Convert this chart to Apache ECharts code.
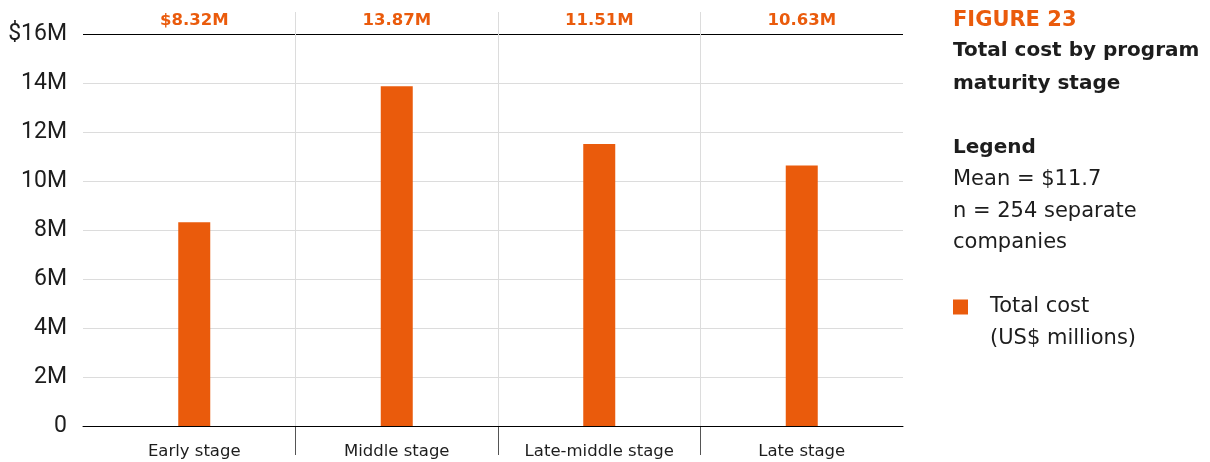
<!DOCTYPE html>
<html>
<head>
<meta charset="utf-8">
<script src="https://cdn.jsdelivr.net/npm/echarts@6/dist/echarts.min.js"></script>
<style>
  html, body { margin: 0; padding: 0; background: #fff; }
  #chart { width: 1210px; height: 462px; }
</style>
</head>
<body>
<div id="chart"></div>
<script>
// Program maturity stages and the average total cost for each (US$ millions)
const stages = ['Early stage', 'Middle stage', 'Late-middle stage', 'Late stage'];
const totalCost = [8.32, 13.87, 11.51, 10.63];
const yTickLabels = ['0', '2M', '4M', '6M', '8M', '10M', '12M', '14M', '$16M'];

const ORANGE = '#EA5B0C';
const INK = '#1d1d1d';
const BODY = '"DejaVu Sans", sans-serif';
const HEAVY = '"DejaVu Sans", sans-serif';
const AXIS = 'Roboto, sans-serif';

const chart = echarts.init(document.getElementById('chart'), null, { renderer: 'canvas' });

const costLabel = (i) => (i === 0 ? '$' : '') + totalCost[i].toFixed(2) + 'M';
const seriesName = 'Total cost';

chart.setOption({
  animation: false,
  backgroundColor: '#fff',
  textStyle: { fontFamily: BODY },
  title: [
    {
      text: 'FIGURE 23', left: 953, top: 5, padding: 0,
      textStyle: { color: ORANGE, fontSize: 21, fontWeight: 'bold', fontFamily: HEAVY, lineHeight: 32 }
    },
    {
      text: 'Total cost by program\nmaturity stage', left: 953, top: 34, padding: 0,
      textStyle: { color: INK, fontSize: 20, fontWeight: 'bold', fontFamily: HEAVY, lineHeight: 33 }
    },
    {
      text: 'Legend', left: 953, top: 132, padding: 0,
      textStyle: { color: INK, fontSize: 20, fontWeight: 'bold', fontFamily: HEAVY, lineHeight: 32 }
    },
    {
      text: 'Mean = $11.7\nn = 254 separate\ncompanies', left: 953, top: 164, padding: 0,
      textStyle: { color: INK, fontSize: 21, fontWeight: 'normal', fontFamily: BODY, lineHeight: 31.5 }
    },
    {
      text: '(US$ millions)', left: 990, top: 323, padding: 0,
      textStyle: { color: INK, fontSize: 21, fontWeight: 'normal', fontFamily: BODY, lineHeight: 32 }
    }
  ],
  legend: {
    left: 953, top: 291, orient: 'vertical', padding: 0,
    icon: 'rect', itemWidth: 15, itemHeight: 15,
    selectedMode: false,
    textStyle: {
      color: INK, fontSize: 21, fontFamily: BODY, lineHeight: 32,
      padding: [0, 0, 0, 17]
    },
    data: [seriesName]
  },
  grid: [
    // value scale, horizontal gridlines, baseline
    { left: 83, right: 307, top: 34, bottom: 36 },
    // bars and category labels
    { left: 93, right: 307, top: 34, bottom: 36 },
    // light column separators above the baseline
    { left: 93, right: 307, top: 12, bottom: 36 },
    // dark column separators below the baseline
    { left: 93, right: 307, top: 426, bottom: 7 }
  ],
  xAxis: [
    {
      gridIndex: 0, type: 'value', min: 0, max: 1,
      axisLine: { show: true, lineStyle: { color: '#000', width: 1 } },
      axisTick: { show: false }, axisLabel: { show: false }, splitLine: { show: false }
    },
    {
      gridIndex: 1, type: 'category', data: stages, position: 'bottom',
      axisLine: { show: false }, axisTick: { show: false }, splitLine: { show: false },
      axisLabel: { color: INK, fontSize: 16.5, fontFamily: BODY, margin: 17 }
    },
    {
      gridIndex: 1, type: 'category', data: stages, position: 'top',
      axisLine: { show: false }, axisTick: { show: false }, splitLine: { show: false },
      axisLabel: {
        color: ORANGE, fontSize: 16.5, fontWeight: 'bold', fontFamily: HEAVY, margin: 5,
        formatter: (v, i) => costLabel(i)
      }
    },
    {
      gridIndex: 2, type: 'category', data: stages,
      axisLine: { show: false }, axisTick: { show: false }, axisLabel: { show: false },
      splitLine: { show: true, showMinLine: false, showMaxLine: false, lineStyle: { color: '#dcdcdc', width: 1 } }
    },
    {
      gridIndex: 3, type: 'category', data: stages,
      axisLine: { show: false }, axisTick: { show: false }, axisLabel: { show: false },
      splitLine: { show: true, showMinLine: false, showMaxLine: false, lineStyle: { color: '#555', width: 1 } }
    }
  ],
  yAxis: [
    {
      gridIndex: 0, type: 'value', min: 0, max: 16, interval: 2,
      axisLine: { show: false }, axisTick: { show: false },
      axisLabel: {
        color: INK, fontSize: 23, fontFamily: AXIS, margin: 16,
        formatter: (v) => yTickLabels[Math.round(v / 2)]
      },
      splitLine: {
        show: true,
        lineStyle: { width: 1, color: ['#dcdcdc', '#dcdcdc', '#dcdcdc', '#dcdcdc', '#dcdcdc', '#dcdcdc', '#dcdcdc', '#dcdcdc', '#000'] }
      }
    },
    { gridIndex: 1, type: 'value', min: 0, max: 16, interval: 2, show: false },
    { gridIndex: 2, type: 'value', min: 0, max: 1, show: false },
    { gridIndex: 3, type: 'value', min: 0, max: 1, show: false }
  ],
  series: [
    {
      name: seriesName,
      type: 'bar',
      xAxisIndex: 1, yAxisIndex: 1,
      data: totalCost,
      barWidth: 32,
      itemStyle: { color: ORANGE },
      z: 5
    }
  ]
});
</script>
</body>
</html>
